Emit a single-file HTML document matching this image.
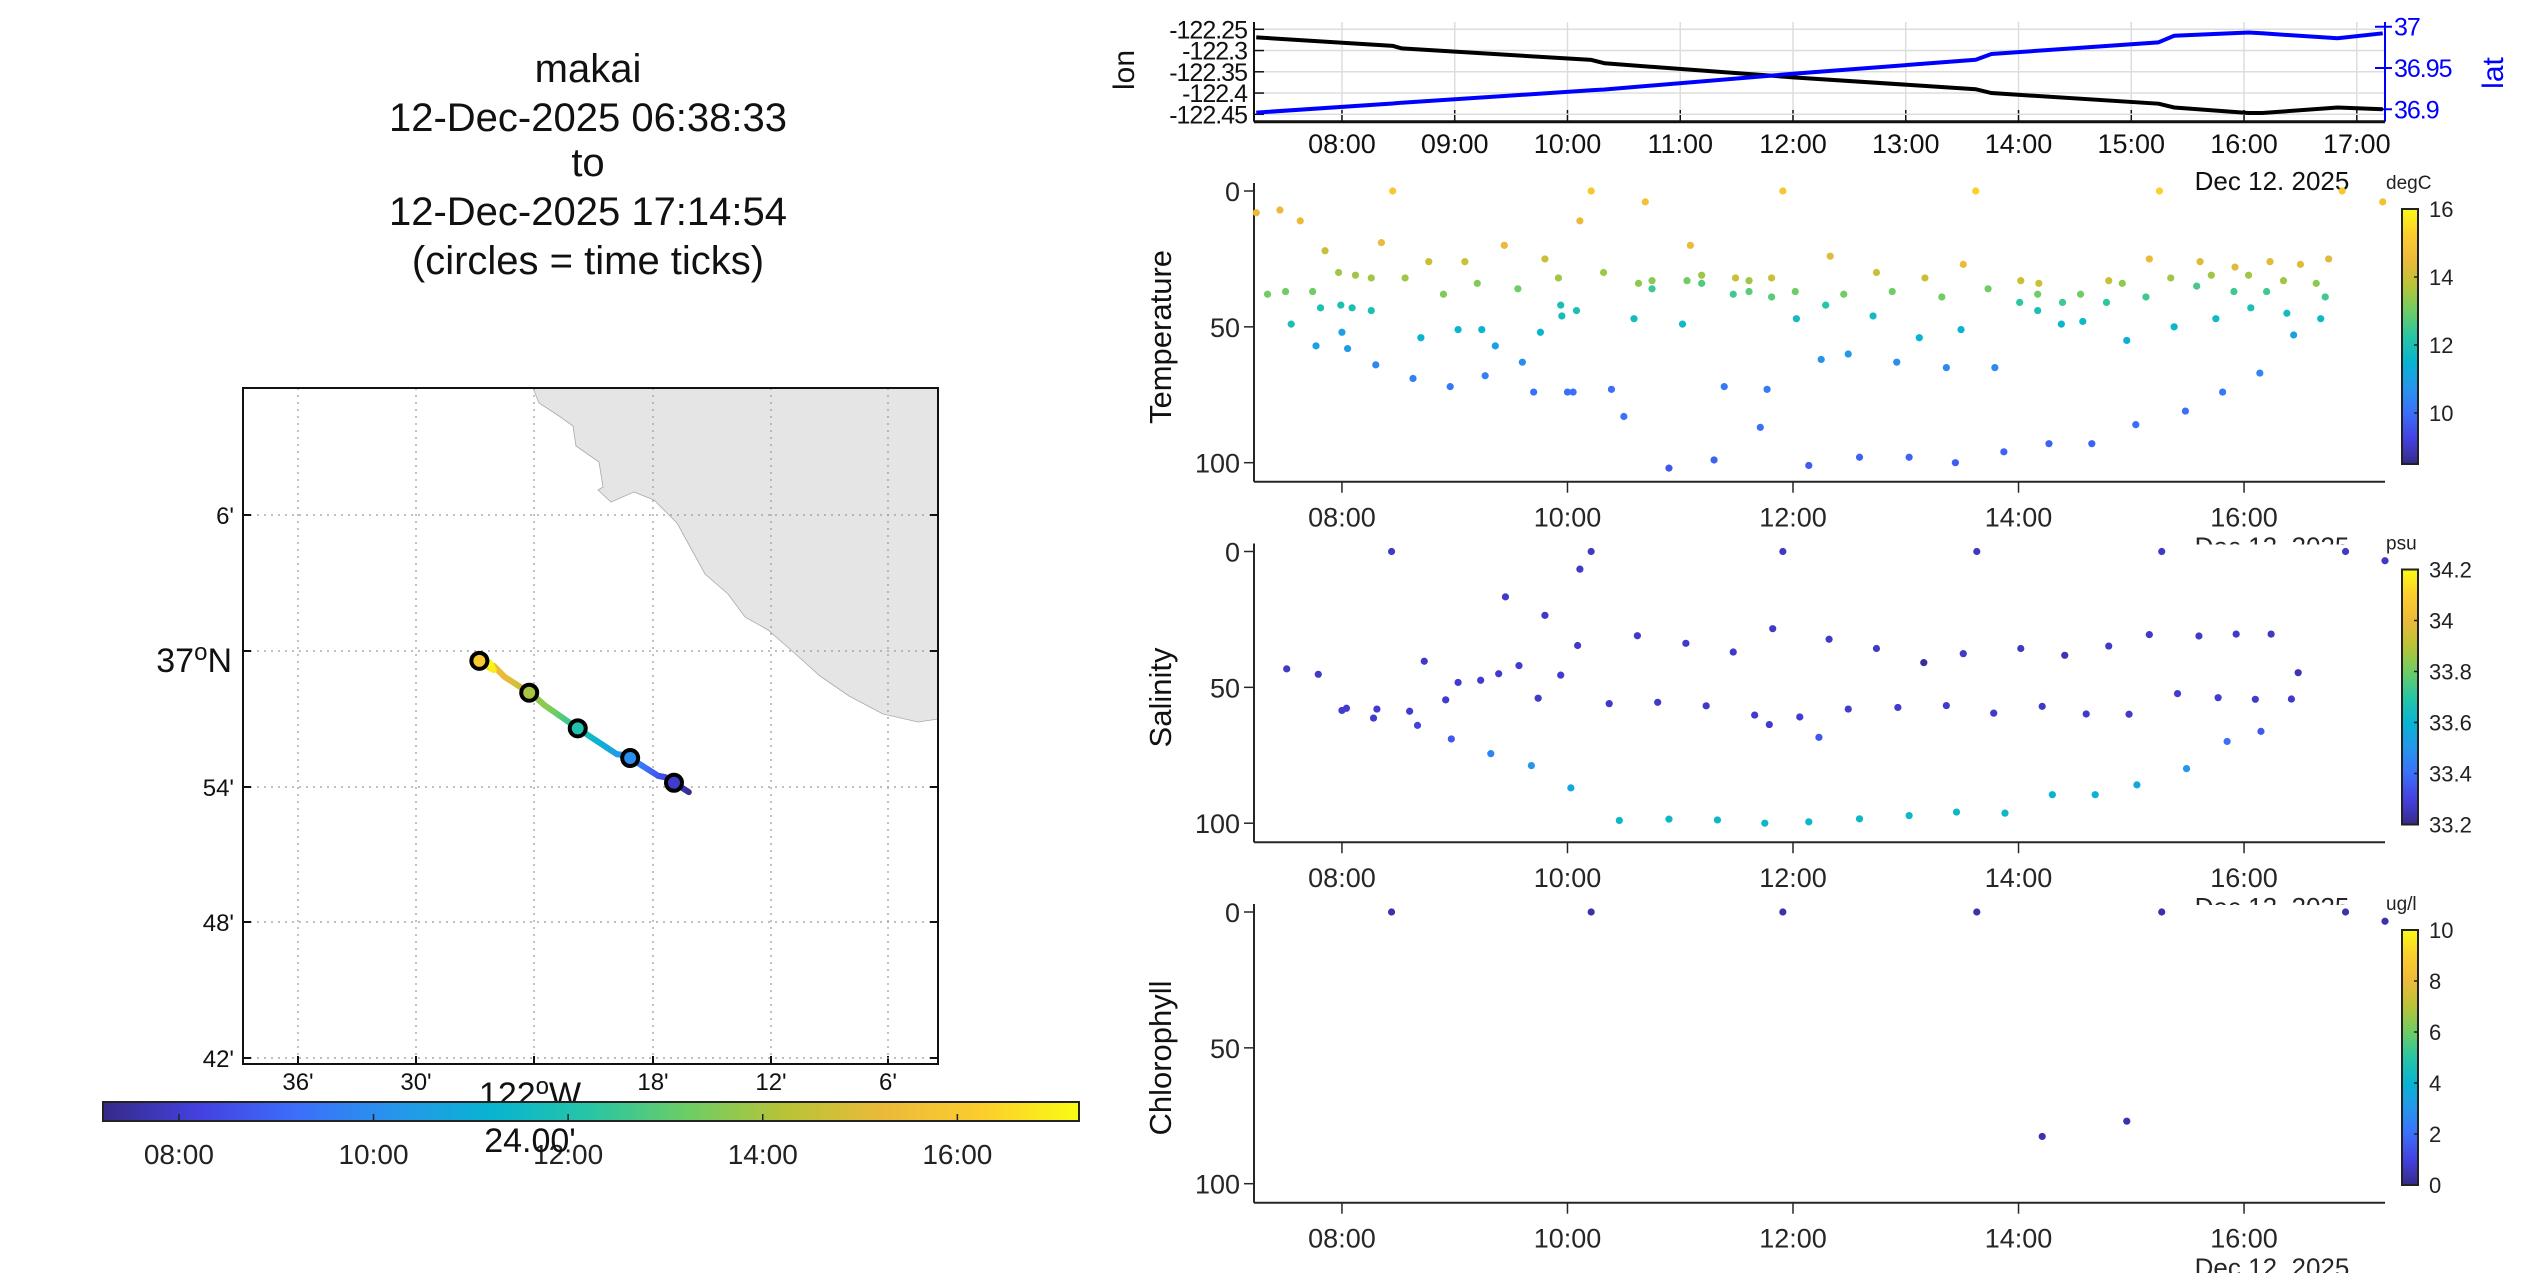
<!DOCTYPE html>
<html><head><meta charset="utf-8"><style>
html,body{margin:0;padding:0;background:#fff}
svg{display:block;font-family:"Liberation Sans",Arial,sans-serif}
</style></head><body>
<svg id="s" width="2545" height="1273" viewBox="0 0 2545 1273" xmlns="http://www.w3.org/2000/svg">
<rect width="2545" height="1273" fill="#fff"/>
<g id="title" font-size="40" text-anchor="middle" fill="#111">
<text x="588" y="82">makai</text><text x="588" y="131">12-Dec-2025 06:38:33</text><text x="588" y="176">to</text><text x="588" y="225">12-Dec-2025 17:14:54</text><text x="588" y="274">(circles = time ticks)</text>
</g>
<g id="map"></g>
<g id="ts"></g>
</svg>
<script>
// ---- data ----
const trackHours=[7.24,8.45,8.53,10.21,10.33,12.0,13.62,13.76,15.24,15.38,16.04,16.16,16.83,17.23];
const lonVals=[-122.269,-122.289,-122.295,-122.322,-122.33,-122.363,-122.391,-122.4,-122.425,-122.434,-122.447,-122.447,-122.434,-122.438];
const latVals=[36.896,36.907,36.908,36.923,36.924,36.943,36.960,36.967,36.981,36.989,36.993,36.992,36.986,36.992];
const circleHours=[8,10,12,14,16];
const tempHours=[7.24,7.34,7.45,7.5,7.55,7.63,7.74,7.77,7.81,7.85,7.97,7.99,8.0,8.05,8.09,8.12,8.26,8.26,8.3,8.35,8.45,8.56,8.63,8.7,8.77,8.9,8.96,9.03,9.09,9.2,9.24,9.27,9.36,9.44,9.56,9.6,9.7,9.76,9.8,9.92,9.94,9.95,10.0,10.05,10.08,10.11,10.21,10.32,10.39,10.5,10.59,10.63,10.69,10.75,10.75,10.9,11.02,11.06,11.09,11.19,11.19,11.3,11.39,11.47,11.49,11.61,11.61,11.71,11.77,11.81,11.81,11.91,12.02,12.03,12.14,12.25,12.29,12.33,12.45,12.49,12.59,12.71,12.74,12.88,12.92,13.03,13.12,13.17,13.32,13.36,13.44,13.49,13.51,13.62,13.73,13.79,13.87,14.01,14.02,14.17,14.17,14.18,14.27,14.38,14.39,14.55,14.57,14.65,14.78,14.8,14.92,14.96,15.04,15.13,15.16,15.25,15.35,15.38,15.48,15.58,15.61,15.71,15.75,15.81,15.91,15.92,16.04,16.06,16.14,16.2,16.23,16.35,16.38,16.44,16.5,16.64,16.68,16.72,16.75,16.87,17.23];
const tempDepths=[8,38,7,37,49,11,37,57,43,22,30,42,52,58,43,31,44,32,64,19,0,32,69,54,26,38,72,51,26,34,51,68,57,20,36,63,74,52,25,32,42,46,74,74,44,11,0,30,73,83,47,34,4,33,36,102,49,33,20,31,34,99,72,38,32,33,37,87,73,32,39,0,37,47,101,62,42,24,38,60,98,46,30,37,63,98,54,32,39,65,100,51,27,0,36,65,96,41,33,38,44,34,93,49,41,38,48,93,41,33,34,55,86,39,25,0,32,50,81,35,26,31,47,74,37,28,31,43,67,37,26,33,45,53,27,34,47,39,25,0,4];
const tempVals=[14.5,13,14.5,13,12,14.5,13,11,12,14,13.5,12,11,10.8,12,13.5,12,13.5,10.5,14.5,15,13.5,10.3,11.5,14,13.2,10.2,11.5,14,13.2,11.5,10.3,11,14.5,13,10.6,10,11.5,14,13.5,12,11.8,10,10,12,14.5,15,13.5,10,10,11.8,13.3,14.8,13.3,12.5,9.6,11.7,13,14.5,13.5,12.7,9.8,10.2,12.5,14,13.5,12.8,10,10.2,14,12.8,15,13,11.8,9.7,10.7,12.2,14.3,13,10.8,9.8,11.8,14,13,10.6,9.8,11.5,14,13,10.5,9.7,11.5,14.5,15.3,13,10.5,9.8,12.3,14,13,12,14,9.8,11.6,12.5,13,11.7,9.8,12.3,14,13.3,11.4,10,12.5,14.5,15.3,13.5,11.6,10,12.6,14.3,13.5,11.7,10.2,12.5,14.3,13.5,12,10.5,12.5,14.3,13.5,11.8,11,14.3,13.3,11.7,12.5,14.3,15,14.8];
const salHours=[8.44,10.21,11.91,13.63,15.27,16.9,17.25,10.11,9.45,9.8,11.82,10.62,11.05,12.32,10.09,11.47,12.74,13.16,13.51,14.02,14.41,14.8,15.16,15.6,15.93,16.24,16.48,7.51,7.79,8.73,9.03,9.23,9.39,9.57,9.94,8.0,8.04,8.31,8.28,8.6,8.67,8.92,8.97,9.74,9.32,9.68,10.03,10.37,10.8,11.23,11.66,11.79,12.06,12.23,12.49,12.93,13.36,13.78,14.21,14.6,14.98,15.41,15.77,16.1,16.42,15.85,16.15,15.49,10.46,10.9,11.33,11.75,12.14,12.59,13.03,13.45,13.88,14.3,14.68,15.05];
const salDepths=[0,0,0,0,0,0,3.4,6.5,16.7,23.5,28.4,31,33.8,32.3,34.6,37,35.7,40.9,37.6,35.7,38.2,34.8,30.6,31.1,30.4,30.4,44.6,43.2,45.2,40.4,48.2,47.4,45,42,45.5,58.5,57.7,58,61.3,58.8,64,54.6,69,54,74.4,78.8,87,56,55.5,56.8,60.2,63.7,60.9,68.4,58,57.4,56.7,59.5,57,59.8,59.9,52.3,53.8,54.4,54.3,69.9,66.2,79.9,99,98.5,98.8,100,99.5,98.4,97.2,95.9,96.3,89.5,89.5,85.9];
const salVals=[33.27,33.27,33.27,33.27,33.27,33.27,33.27,33.27,33.27,33.27,33.27,33.27,33.27,33.27,33.27,33.27,33.27,33.22,33.27,33.27,33.25,33.27,33.27,33.27,33.27,33.27,33.25,33.27,33.27,33.27,33.28,33.28,33.28,33.28,33.28,33.28,33.28,33.28,33.28,33.28,33.3,33.28,33.35,33.27,33.45,33.5,33.55,33.27,33.27,33.27,33.28,33.28,33.28,33.35,33.28,33.28,33.28,33.27,33.27,33.27,33.27,33.28,33.28,33.28,33.27,33.4,33.35,33.5,33.62,33.62,33.62,33.62,33.62,33.62,33.62,33.62,33.62,33.6,33.6,33.55];
const chlHours=[8.44,10.21,11.91,13.63,15.27,16.9,17.25,14.21,14.96];
const chlDepths=[0,0,0,0,0,0,3.4,82.6,77];
const chlVals=[0.4,0.4,0.4,0.4,0.4,0.4,0.4,0.4,0.4];
const hourTicks=[8,9,10,11,12,13,14,15,16,17];
const hourTicks2=[8,10,12,14,16];
const lonTicks=[-122.25,-122.3,-122.35,-122.4,-122.45];
const lonTickLabels=["-122.25","-122.3","-122.35","-122.4","-122.45"];
const latTicks=[37,36.95,36.9];
const latTickLabels=["37","36.95","36.9"];
const depthTicks=[0,50,100];
const tempCbTicks=[10,12,14,16];
const salCbTicks=[33.2,33.4,33.6,33.8,34,34.2];
const chlCbTicks=[0,2,4,6,8,10];

// ---- helpers ----
const NS="http://www.w3.org/2000/svg";
function mk(parent,tag,attrs,text){const e=document.createElementNS(NS,tag);for(const k in attrs)e.setAttribute(k,attrs[k]);if(text!==undefined)e.textContent=text;parent.appendChild(e);return e;}
const stops=[[0,53,42,135],[0.1,68,65,225],[0.2,60,111,250],[0.3,38,150,235],[0.4,8,180,208],[0.5,40,197,165],[0.6,110,205,100],[0.7,185,195,55],[0.8,235,186,58],[0.9,252,205,45],[1,249,251,20]];
function parula(t){t=Math.max(0,Math.min(1,t));for(let i=1;i<stops.length;i++){if(t<=stops[i][0]){const a=stops[i-1],b=stops[i],f=(t-a[0])/(b[0]-a[0]);return `rgb(${Math.round(a[1]+(b[1]-a[1])*f)},${Math.round(a[2]+(b[2]-a[2])*f)},${Math.round(a[3]+(b[3]-a[3])*f)})`;}}return "rgb(249,251,20)";}
const T0=7.22,T1=17.25;
const X=h=>1254+(h-T0)*(1131/(T1-T0));
function hh(h){return String(Math.floor(h)).padStart(2,"0")+":00";}
function interp(xs,ys,x){if(x<=xs[0])return ys[0];for(let i=1;i<xs.length;i++){if(x<=xs[i]){const f=(x-xs[i-1])/(xs[i]-xs[i-1]);return ys[i-1]+(ys[i]-ys[i-1])*f;}}return ys[ys.length-1];}
const svg=document.getElementById("s");
const defs=mk(svg,"defs",{});
const lg=mk(defs,"linearGradient",{id:"gh",x1:"0",x2:"1",y1:"0",y2:"0"});
const lgv=mk(defs,"linearGradient",{id:"gv",x1:"0",x2:"0",y1:"1",y2:"0"});
for(let i=0;i<=20;i++){mk(lg,"stop",{offset:i/20,"stop-color":parula(i/20)});mk(lgv,"stop",{offset:i/20,"stop-color":parula(i/20)});}

// ---- map ----
const map=document.getElementById("map");
const MX=lon=>534+(lon+122.4)*1182;
const MY=lat=>651+(37-lat)*1357;
mk(map,"rect",{x:243,y:388,width:695,height:676,fill:"#fff"});
const coast=[[533,388],[539,403],[559,416],[573,426],[576,446],[599,462],[603,487],[598,490],[611,502],[634,492],[654,500],[677,523],[688,543],[705,574],[728,594],[745,617],[768,630],[791,650],[820,676],[849,696],[883,714],[918,722],[938,719],[938,388]];
let land=mk(map,"polygon",{points:coast.map(p=>p.join(",")).join(" "),fill:"#e5e5e5",stroke:"#aaa","stroke-width":0.8});


const lonGrid=[298,416,534,653,771,888],lonLab=["36'","30'","","18'","12'","6'"];
lonGrid.forEach((x,i)=>{mk(map,"line",{x1:x,x2:x,y1:388,y2:1064,stroke:"#999","stroke-width":1.2,"stroke-dasharray":"2,5"});mk(map,"line",{x1:x,x2:x,y1:1064,y2:1056,stroke:"#111","stroke-width":2});if(lonLab[i])mk(map,"text",{x:x,y:1090,"font-size":24,"text-anchor":"middle",fill:"#111"},lonLab[i]);});
const latGrid=[515,651,787,922,1058],latLab=["6'","","54'","48'","42'"];
latGrid.forEach((y,i)=>{mk(map,"line",{x1:243,x2:938,y1:y,y2:y,stroke:"#999","stroke-width":1.2,"stroke-dasharray":"2,5"});mk(map,"line",{x1:243,x2:251,y1:y,y2:y,stroke:"#111","stroke-width":2});mk(map,"line",{x1:930,x2:938,y1:y,y2:y,stroke:"#111","stroke-width":2});if(latLab[i])mk(map,"text",{x:234,y:y+9,"font-size":24,"text-anchor":"end",fill:"#111"},latLab[i]);});
const t37=mk(map,"text",{x:232,y:672,"font-size":34,"text-anchor":"end",fill:"#111"});t37.innerHTML='37<tspan dy="-12" font-size="24">o</tspan><tspan dy="12">N</tspan>';


mk(map,"rect",{x:243,y:388,width:695,height:676,fill:"none",stroke:"#111","stroke-width":2});
// track
for(let i=1;i<trackHours.length;i++){const n=12;for(let k=0;k<n;k++){const ha=trackHours[i-1]+(trackHours[i]-trackHours[i-1])*k/n,hb=trackHours[i-1]+(trackHours[i]-trackHours[i-1])*(k+1)/n;
const seg=mk(map,"line",{x1:MX(interp(trackHours,lonVals,ha)),y1:MY(interp(trackHours,latVals,ha)),x2:MX(interp(trackHours,lonVals,hb)),y2:MY(interp(trackHours,latVals,hb)),stroke:parula(((ha+hb)/2-T0)/(T1-T0)),"stroke-width":6,"stroke-linecap":"round"});

}}
circleHours.forEach(h=>{const c=mk(map,"circle",{cx:MX(interp(trackHours,lonVals,h)),cy:MY(interp(trackHours,latVals,h)),r:8,fill:parula((h-T0)/(T1-T0)),stroke:"#000","stroke-width":4});

});
mk(map,"text",{x:530,y:1106,"font-size":34,"text-anchor":"middle",fill:"#111"}).innerHTML='122<tspan dy="-12" font-size="24">o</tspan><tspan dy="12">W</tspan>';
// horizontal colorbar
const hcb=mk(map,"rect",{x:103,y:1102,width:976,height:19,fill:"url(#gh)",stroke:"#222","stroke-width":2});


const HX=h=>103+(h-T0)*976/(T1-T0);
hourTicks2.forEach(h=>{mk(map,"line",{x1:HX(h),x2:HX(h),y1:1121,y2:1114,stroke:"#222","stroke-width":1.5});mk(map,"text",{x:HX(h),y:1164,"font-size":28,"text-anchor":"middle",fill:"#222"},hh(h));});
mk(map,"text",{x:530,y:1152,"font-size":34,"text-anchor":"middle",fill:"#111"},"24.00'");

// ---- time series ----
const ts=document.getElementById("ts");
const LY=v=>29.3+(-122.25-v)*425;
const AY=v=>26.7+(37-v)*826;
hourTicks.forEach(h=>{mk(ts,"line",{x1:X(h),x2:X(h),y1:22,y2:121.7,stroke:"#ddd","stroke-width":1.5});mk(ts,"line",{x1:X(h),x2:X(h),y1:121.7,y2:110,stroke:"#111","stroke-width":1.5});mk(ts,"text",{x:X(h),y:153,"font-size":27,"text-anchor":"middle",fill:"#111"},hh(h));});
lonTicks.forEach((v,i)=>{mk(ts,"line",{x1:1254,x2:2385,y1:LY(v),y2:LY(v),stroke:"#ddd","stroke-width":1.5});mk(ts,"line",{x1:1254,x2:1264,y1:LY(v),y2:LY(v),stroke:"#111","stroke-width":1.5});mk(ts,"text",{x:1247,y:LY(v)+9,"font-size":25,"text-anchor":"end",fill:"#111","letter-spacing":"-1"},lonTickLabels[i]);});
latTicks.forEach((v,i)=>{mk(ts,"line",{x1:2375,x2:2392,y1:AY(v),y2:AY(v),stroke:"#00f","stroke-width":2});mk(ts,"text",{x:2394,y:AY(v)+9,"font-size":25,fill:"#00f","letter-spacing":"-1"},latTickLabels[i]);});
mk(ts,"line",{x1:1254,x2:1254,y1:22,y2:121.7,stroke:"#111","stroke-width":2});
mk(ts,"line",{x1:2385,x2:2385,y1:22,y2:121.7,stroke:"#00f","stroke-width":2});
mk(ts,"line",{x1:1254,x2:2385,y1:121.7,y2:121.7,stroke:"#111","stroke-width":3});
const lonLine=mk(ts,"polyline",{points:trackHours.map((h,i)=>X(h)+","+LY(lonVals[i])).join(" "),fill:"none",stroke:"#000","stroke-width":4});


const latLine=mk(ts,"polyline",{points:trackHours.map((h,i)=>X(h)+","+AY(latVals[i])).join(" "),fill:"none",stroke:"#00f","stroke-width":4});


mk(ts,"text",{x:0,y:0,"font-size":30,"text-anchor":"middle",fill:"#111",transform:"translate(1134,70) rotate(-90)"},"lon");
mk(ts,"text",{x:0,y:0,"font-size":30,"text-anchor":"middle",fill:"#00f",transform:"translate(2503,73) rotate(-90)"},"lat");
mk(ts,"text",{x:2272,y:190,"font-size":26,"text-anchor":"middle",fill:"#111"},"Dec 12. 2025");

const panels=[
 {name:"temperature",label:"Temperature",unit:"degC",h:tempHours,d:tempDepths,v:tempVals,lo:8.5,hi:16,cb:tempCbTicks,fmt:v=>String(v)},
 {name:"salinity",label:"Salinity",unit:"psu",h:salHours,d:salDepths,v:salVals,lo:33.2,hi:34.2,cb:salCbTicks,fmt:v=>String(+v.toFixed(1))},
 {name:"chlorophyll",label:"Chlorophyll",unit:"ug/l",h:chlHours,d:chlDepths,v:chlVals,lo:0,hi:10,cb:chlCbTicks,fmt:v=>String(v)}];
panels.forEach((p,pi)=>{
 const y0=191+360.5*pi, yb=y0+290.7;
 const g=mk(ts,"g",{});
 
 
 if(pi>0)mk(g,"rect",{x:1254,y:y0-7,width:1131,height:yb-y0+7,fill:"#fff"});
 const Y=d=>y0+d*2.717;
 mk(g,"line",{x1:1254,x2:1254,y1:y0-8,y2:yb,stroke:"#262626","stroke-width":2});
 mk(g,"line",{x1:1254,x2:2385,y1:yb,y2:yb,stroke:"#262626","stroke-width":2});
 depthTicks.forEach(d=>{mk(g,"line",{x1:1244,x2:1254,y1:Y(d),y2:Y(d),stroke:"#262626","stroke-width":1.5});mk(g,"text",{x:1240,y:Y(d)+10,"font-size":27,"text-anchor":"end",fill:"#262626"},String(d));});
 hourTicks2.forEach(h=>{mk(g,"line",{x1:X(h),x2:X(h),y1:yb,y2:yb+11,stroke:"#262626","stroke-width":1.5});mk(g,"text",{x:X(h),y:yb+45,"font-size":27,"text-anchor":"middle",fill:"#262626"},hh(h));});
 mk(g,"text",{x:2272,y:yb+74,"font-size":26,"text-anchor":"middle",fill:"#262626"},"Dec 12. 2025");
 mk(g,"text",{x:0,y:0,"font-size":31,"text-anchor":"middle",fill:"#111",transform:`translate(1171,${y0+146}) rotate(-90)`},p.label);
 p.h.forEach((h,i)=>{const c=mk(g,"circle",{cx:X(h),cy:Y(p.d[i]),r:3.6,fill:parula((p.v[i]-p.lo)/(p.hi-p.lo))});
  
  });
 const cby0=y0+18,cby1=y0+273;
 const cb=mk(g,"rect",{x:2402,y:cby0,width:16,height:cby1-cby0,fill:"url(#gv)",stroke:"#222","stroke-width":2});
 
 
 p.cb.forEach(v=>{const y=cby1-(v-p.lo)/(p.hi-p.lo)*(cby1-cby0);mk(g,"line",{x1:2414,x2:2418,y1:y,y2:y,stroke:"#222","stroke-width":1.5});mk(g,"text",{x:2429,y:y+8,"font-size":22,fill:"#222"},p.fmt(v));});
 mk(g,"text",{x:2386,y:y0-2,"font-size":19,fill:"#222"},p.unit);
});
</script>
</body></html>
